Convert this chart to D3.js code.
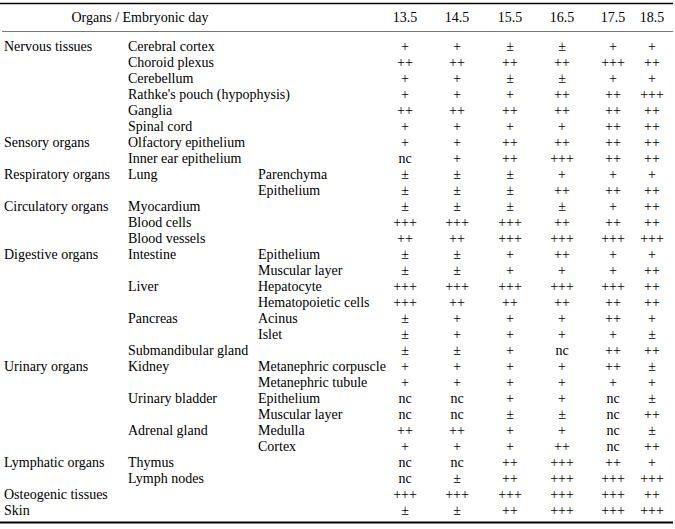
<!DOCTYPE html>
<html><head><meta charset="utf-8">
<script src="https://cdn.jsdelivr.net/npm/d3@7"></script>
<style>body{margin:0;background:#fff}svg{display:block}</style>
</head><body>
<script>
const days = ["13.5","14.5","15.5","16.5","17.5","18.5"];
const systems = ["Nervous tissues","","","","","","Sensory organs","","Respiratory organs","","Circulatory organs","","","Digestive organs","","","","","","","Urinary organs","","","","","","Lymphatic organs","","Osteogenic tissues","Skin"];
const organs = ["Cerebral cortex","Choroid plexus","Cerebellum","Rathke's pouch (hypophysis)","Ganglia","Spinal cord","Olfactory epithelium","Inner ear epithelium","Lung","","Myocardium","Blood cells","Blood vessels","Intestine","","Liver","","Pancreas","","Submandibular gland","Kidney","","Urinary bladder","","Adrenal gland","","Thymus","Lymph nodes","",""];
const parts = ["","","","","","","","","Parenchyma","Epithelium","","","","Epithelium","Muscular layer","Hepatocyte","Hematopoietic cells","Acinus","Islet","","Metanephric corpuscle","Metanephric tubule","Epithelium","Muscular layer","Medulla","Cortex","","","",""];
const expression = [
["+","+","±","±","+","+"],
["++","++","++","++","+++","++"],
["+","+","±","±","+","+"],
["+","+","+","++","++","+++"],
["++","++","++","++","++","++"],
["+","+","+","+","++","++"],
["+","+","++","++","++","++"],
["nc","+","++","+++","++","++"],
["±","±","±","+","+","+"],
["±","±","±","++","++","++"],
["±","±","±","±","+","++"],
["+++","+++","+++","++","++","++"],
["++","++","+++","+++","+++","+++"],
["±","±","+","++","+","+"],
["±","±","+","+","+","++"],
["+++","+++","+++","+++","+++","++"],
["+++","++","++","++","++","++"],
["±","+","+","+","++","+"],
["±","+","+","+","+","±"],
["±","±","+","nc","++","++"],
["+","+","+","+","++","±"],
["+","+","+","+","+","+"],
["nc","nc","+","+","nc","±"],
["nc","nc","±","±","nc","++"],
["++","++","+","+","nc","±"],
["+","+","+","++","nc","++"],
["nc","nc","++","+++","++","+"],
["nc","±","++","+++","+++","+++"],
["+++","+++","+++","+++","+++","++"],
["±","±","++","+++","+++","+++"]
];
const headerLabel = "Organs / Embryonic day";

const W = 675, H = 529;
const svg = d3.select("body").append("svg").attr("width", W).attr("height", H)
  .style("font-family", "'Liberation Serif','Times New Roman',serif").style("font-size", "14px");

const rows = d3.range(expression.length);
const y = d3.scaleBand().domain(rows).range([38, 518]);
const x = d3.scaleOrdinal().domain(days).range([405, 457, 510, 562, 613, 652]);
const labelX = d3.scaleOrdinal().domain(["system","organ","part"]).range([4, 128, 258]);

// rules
svg.append("line").attr("x1", 0).attr("x2", 673).attr("y1", 3.5).attr("y2", 3.5).attr("stroke", "#000").attr("stroke-width", 1.5);
svg.append("line").attr("x1", 2).attr("x2", 673).attr("y1", 31.5).attr("y2", 31.5).attr("stroke", "#777").attr("stroke-width", 1);
svg.append("line").attr("x1", 0).attr("x2", 673).attr("y1", 522.5).attr("y2", 522.5).attr("stroke", "#000").attr("stroke-width", 2);

// header
svg.append("text").attr("x", 140).attr("y", 22).attr("text-anchor", "middle").attr("fill", "#000").text(headerLabel);
svg.selectAll("text.day").data(days).join("text").attr("class", "day")
  .attr("x", d => x(d)).attr("y", 22).attr("text-anchor", "middle").attr("fill", "#000").text(d => d);

const cy = i => y(i) + y.bandwidth() / 2;
const addCol = (arr, key) => svg.selectAll("text." + key).data(arr.map((t, i) => ({t, i})).filter(d => d.t))
  .join("text").attr("class", key).attr("x", labelX(key)).attr("y", d => cy(d.i)).attr("dy", "0.35em")
  .attr("fill", "#000").text(d => d.t);
addCol(systems, "system");
addCol(organs, "organ");
addCol(parts, "part");

const cells = [];
expression.forEach((r, i) => r.forEach((v, j) => cells.push({i, day: days[j], v})));
svg.selectAll("text.cell").data(cells).join("text").attr("class", "cell")
  .attr("x", d => x(d.day)).attr("y", d => cy(d.i)).attr("dy", "0.35em")
  .attr("text-anchor", "middle").attr("fill", "#000").text(d => d.v);
</script>
</body></html>
